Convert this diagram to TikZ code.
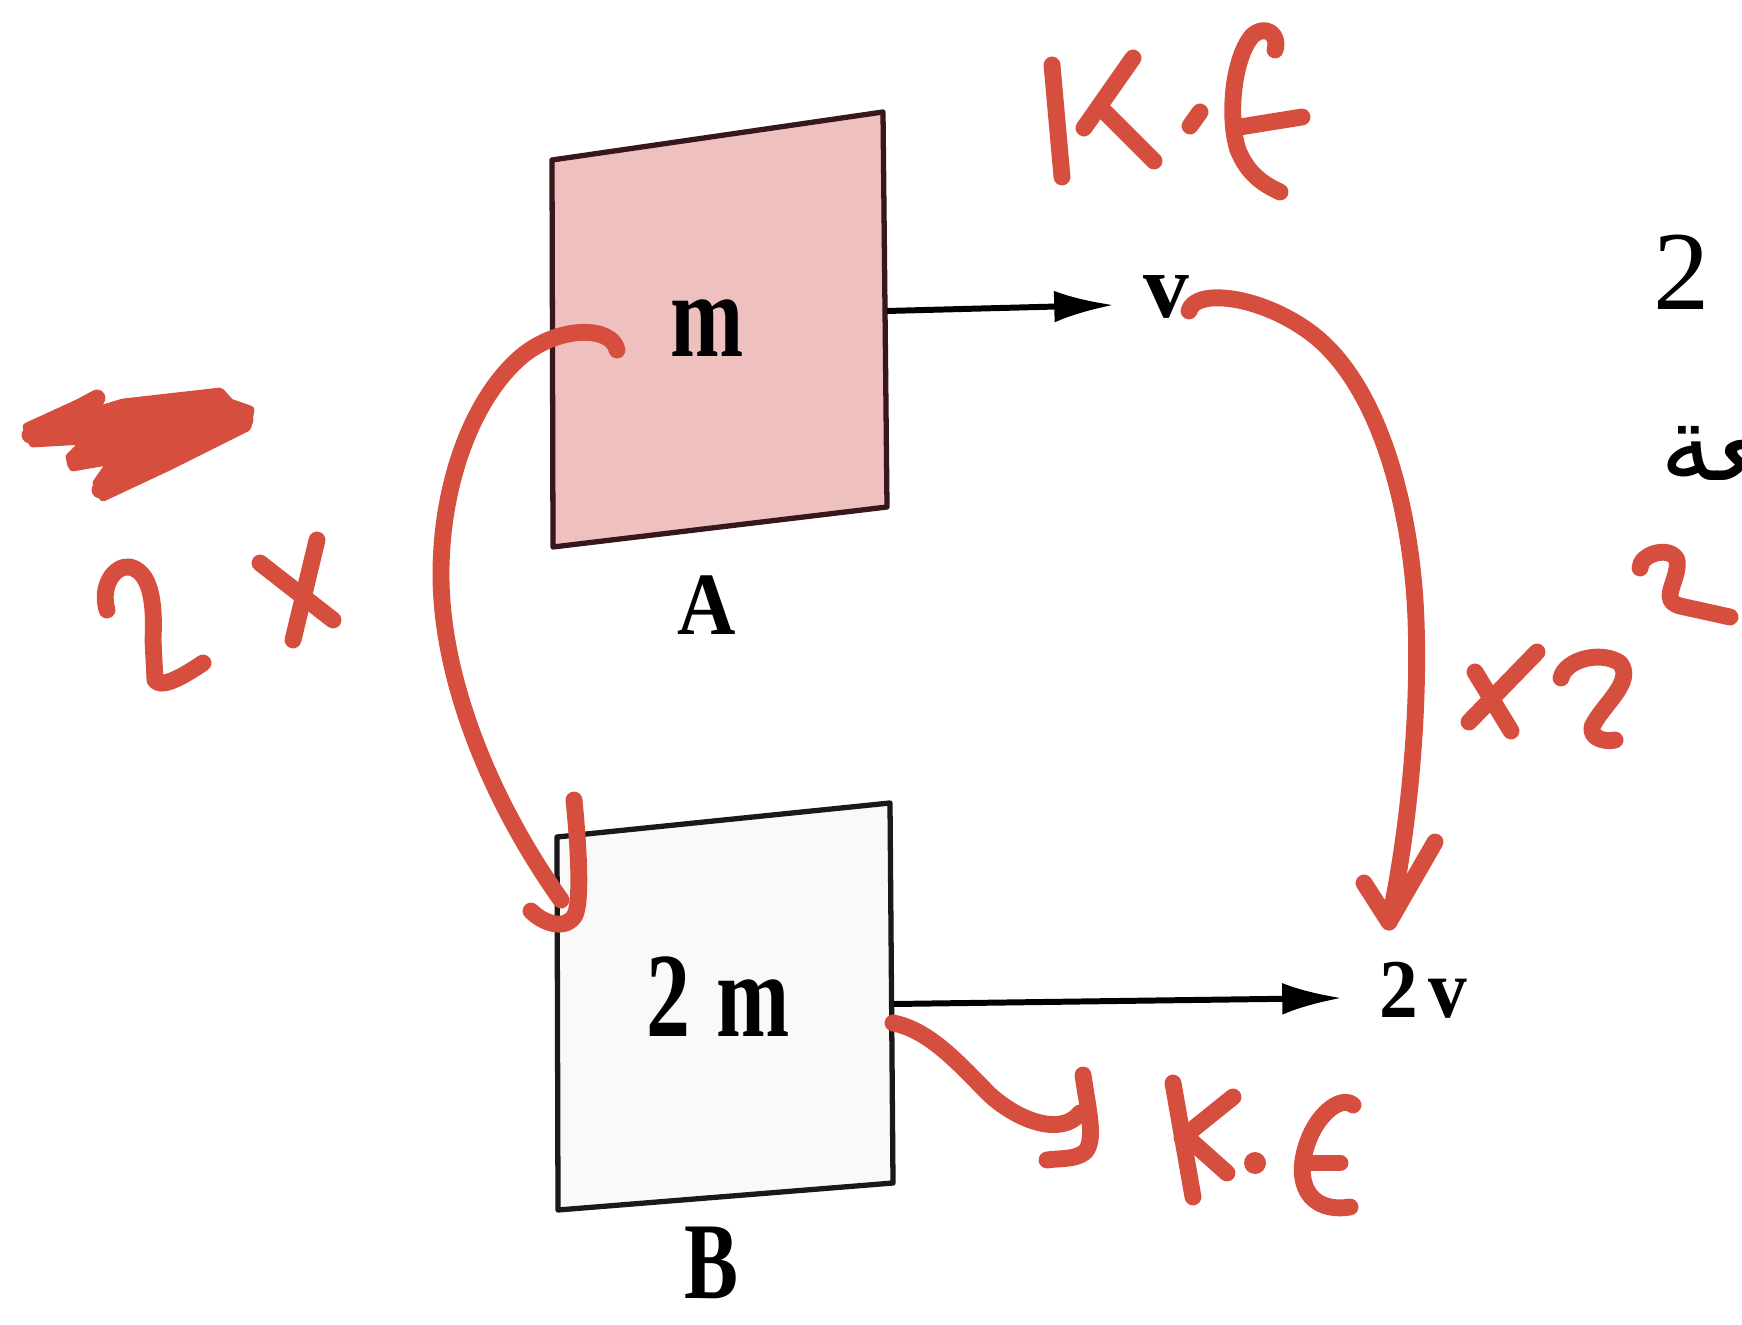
\documentclass[tikz,border=0pt]{standalone}
\usepackage{fontspec}
\setmainfont{Liberation Serif}
\newfontfamily\arabicfont[Script=Arabic]{DejaVu Sans}
\TeXXeTstate=1
\usetikzlibrary{arrows.meta}
\definecolor{ink}{RGB}{214,79,62}
\definecolor{pinkA}{RGB}{238,192,190}
\definecolor{paleB}{RGB}{251,248,248}
\definecolor{edgeA}{RGB}{55,22,28}
\newcommand\vst[2]{\scalebox{1}[#1]{#2}}
\begin{document}
\begin{tikzpicture}[x=0.01cm,y=-0.01cm,
  pen/.style={ink,line width=4.8pt,line cap=round,line join=round},
  blk/.style={black,line width=1.7pt,-{Latex[length=17pt,width=9pt]}},
  lbl/.style={inner sep=0pt,text=black}]
\useasboundingbox (0,0) rectangle (1742,1325);
\fill[white] (0,0) rectangle (1742,1325);

% box A
\draw[fill=pinkA,draw=edgeA,line width=1.5pt,line join=round]
  (552,160) -- (883,112) -- (887,507) -- (553,547) -- cycle;
% box B
\draw[fill=paleB,draw=black!90,line width=1.5pt,line join=round]
  (557,837) -- (890,803) -- (893,1183) -- (558,1210) -- cycle;

% labels
\node[lbl,font=\bfseries\fontsize{25}{25}\selectfont] (mA) at (707,328) {\vst{1.37}{m}};
\node[lbl,font=\bfseries\fontsize{25}{25}\selectfont] (mB) at (718,997) {\vst{1.37}{2\hspace{0.3em}m}};
\node[lbl,font=\bfseries\fontsize{23}{23}\selectfont] (A) at (707,605) {\vst{1.1}{A}};
\node[lbl,font=\bfseries\fontsize{23}{23}\selectfont] (B) at (711,1263) {\vst{1.35}{B}};
\node[lbl,font=\bfseries\fontsize{26}{26}\selectfont] (v) at (1166,297) {v};
\node[lbl,font=\bfseries\fontsize{22}{22}\selectfont] (v2) at (1423,990) {\vst{1.08}{2\hspace{3pt}v}};
\node[lbl,font=\fontsize{32}{32}\selectfont] (two) at (1682,272) {2};
\node[lbl,anchor=west,font=\fontsize{30}{30}\selectfont] (ar) at (1660,440) {\arabicfont\beginR قطعة\endR};

% black arrows
\coordinate (Ar) at (887,311);
\coordinate (Atip) at (1114,305);
\coordinate (Br) at (894,1004);
\coordinate (Btip) at (1342,998);
\draw[blk] (Ar) -- (Atip);
\draw[blk] (Br) -- (Btip);

% red: left curved arrow (m -> B)
\coordinate (hs) at (617,350);
\coordinate (he) at (561,900);
\draw[pen] (hs) .. controls (612,326) and (560,325) .. (522,356)
  .. controls (470,400) and (440,490) .. (441,578)
  .. controls (442,680) and (490,800) .. (he);
\draw[pen] (574,800) .. controls (578,840) and (582,900) .. (575,915)
  .. controls (567,930) and (545,925) .. (531,911);

% red: right curved arrow (v -> 2v)
\coordinate (rs) at (1189,311);
\coordinate (re) at (1389,922);
\draw[pen] (rs) .. controls (1195,288) and (1260,295) .. (1311,333)
  .. controls (1380,385) and (1412,510) .. (1416,620)
  .. controls (1420,730) and (1405,850) .. (re);
\draw[pen] (1364,883) -- (re) -- (1435,842);

% red: bottom squiggle arrow
\draw[pen] (893,1023) .. controls (930,1030) and (960,1065) .. (990,1095)
  .. controls (1020,1122) and (1062,1136) .. (1080,1113);
\draw[pen] (1083,1075) .. controls (1088,1110) and (1096,1140) .. (1085,1152)
  .. controls (1075,1160) and (1060,1158) .. (1047,1160);

% red: bottom K.E
\draw[pen] (1173,1083) -- (1193,1197);
\draw[pen] (1233,1097) -- (1182,1138);
\draw[pen] (1190,1140) -- (1227,1173);
\fill[ink] (1255,1163) circle (11);
\draw[pen] (1353,1105) .. controls (1340,1094) and (1310,1118) .. (1303,1160)
  .. controls (1298,1196) and (1320,1212) .. (1350,1207);
\draw[pen] (1303,1163) -- (1340,1163);

% red: top K.E
\draw[pen] (1052,65) -- (1062,177);
\draw[pen] (1133,58) -- (1084,128);
\draw[pen] (1105,112) -- (1154,161);
\draw[pen] (1200,112) -- (1190,126);
\draw[pen] (1275,50) .. controls (1280,34) and (1265,24) .. (1252,36)
  .. controls (1232,60) and (1228,120) .. (1238,150)
  .. controls (1248,175) and (1265,185) .. (1280,192);
\draw[pen] (1240,127) -- (1302,117);

% red: x2 and superscript 2
\draw[pen] (1537,652) -- (1469,722);
\draw[pen] (1475,672) -- (1511,731);
\draw[pen] (1561,678) .. controls (1565,660) and (1600,650) .. (1620,663)
  .. controls (1635,682) and (1602,705) .. (1592,727)
  .. controls (1590,740) and (1608,742) .. (1615,740);
\draw[pen] (1640,568) .. controls (1640,554) and (1670,545) .. (1677,560)
  .. controls (1680,580) and (1658,600) .. (1680,606) -- (1730,617);

% red: left scribble
\filldraw[ink,line width=2.5pt,line join=round]
  (27,427) -- (97,395) -- (100,410) -- (123,403) -- (220,392) -- (230,403)
  -- (250,410) -- (247,427) -- (167,467) -- (103,497) -- (97,483) -- (113,460)
  -- (73,467) -- (70,457) -- (87,440) -- (33,443) -- cycle;
\draw[pen] (30,435) -- (97,398);
\draw[pen] (75,462) -- (120,445);
\draw[pen] (100,490) -- (245,420);

% red: "2 x" on the left
\draw[pen] (107,610) .. controls (100,585) and (115,565) .. (130,567)
  .. controls (150,572) and (155,600) .. (153,640) -- (155,680)
  .. controls (160,688) and (178,680) .. (203,663);
\draw[pen] (317,540) -- (293,640);
\draw[pen] (260,563) -- (333,620);
\end{tikzpicture}
\end{document}
